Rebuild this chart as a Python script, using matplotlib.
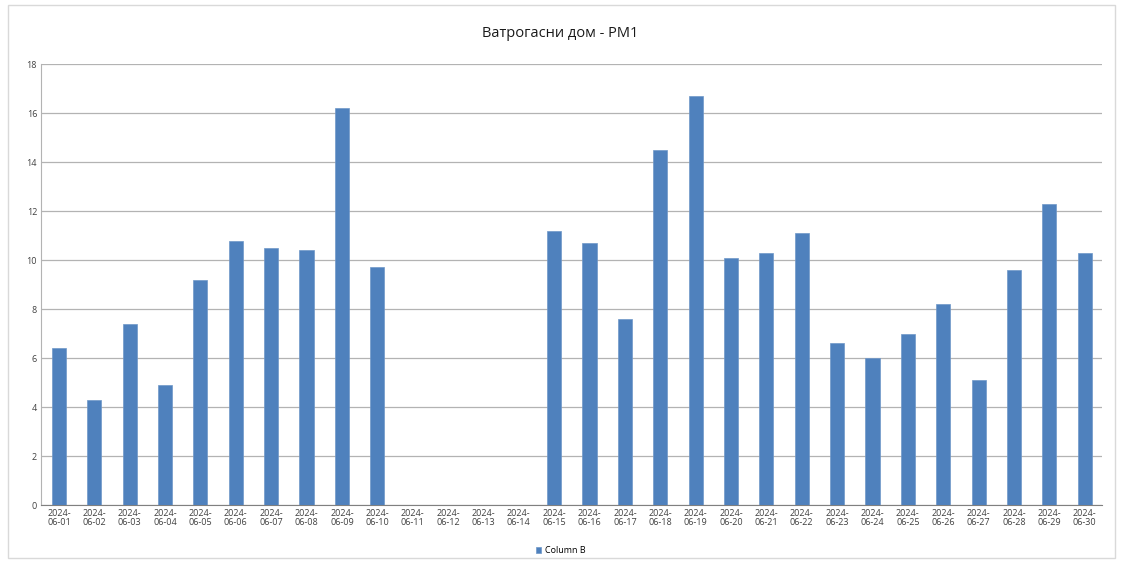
import matplotlib.pyplot as plt
from matplotlib.patches import Rectangle

plt.rcParams['font.family'] = ['Open Sans', 'DejaVu Sans']

dates = ['2024-06-%02d' % d for d in range(1, 31)]
values = [6.4, 4.3, 7.4, 4.9, 9.2, 10.8, 10.5, 10.4, 16.2, 9.7,
          0, 0, 0, 0, 11.2, 10.7, 7.6, 14.5, 16.7, 10.1,
          10.3, 11.1, 6.6, 6.0, 7.0, 8.2, 5.1, 9.6, 12.3, 10.3]
title = 'Ватрогасни дом - PM1'
series_name = 'Column B'
y_ticks = [0, 2, 4, 6, 8, 10, 12, 14, 16, 18]

fig = plt.figure(figsize=(11.21, 5.63), dpi=100)
ax = fig.add_axes([0.0368, 0.103, 0.9466, 0.783])

# outer light border
fig.patches.append(Rectangle((0.007, 0.008), 0.988, 0.984, transform=fig.transFigure,
                             fill=False, edgecolor='#d9d9d9', linewidth=1.0))

x = list(range(len(dates)))
ax.bar(x, values, width=0.4, color='#4f81bd', edgecolor='#6f97c8', linewidth=0.5,
       label=series_name, zorder=3)

ax.set_xlim(-0.5, len(dates) - 0.5)
ax.set_ylim(0, 18)
ax.set_yticks(y_ticks)
ax.set_yticklabels([str(t) for t in y_ticks], fontsize=6.5, color='#404040')
ax.set_xticks(x)
ax.set_xticklabels([d[:5] + '\n' + d[5:] for d in dates], fontsize=6.5,
                   color='#404040', linespacing=1.0)
ax.tick_params(axis='both', length=0, pad=3)

ax.grid(axis='y', color='#b3b3b3', linewidth=0.9, zorder=0)
for side in ['top', 'right']:
    ax.spines[side].set_visible(False)
ax.spines['left'].set_color('#b3b3b3')
ax.spines['bottom'].set_color('#808080')

fig.text(0.5, 0.94, title, ha='center', va='center', fontsize=10.5, color='#1a1a1a')

fig.legend(loc='center', bbox_to_anchor=(0.5, 0.022), frameon=False, fontsize=6.5,
           handlelength=0.6, handleheight=0.6, handletextpad=0.4)

fig.savefig('out.png', dpi=100)
